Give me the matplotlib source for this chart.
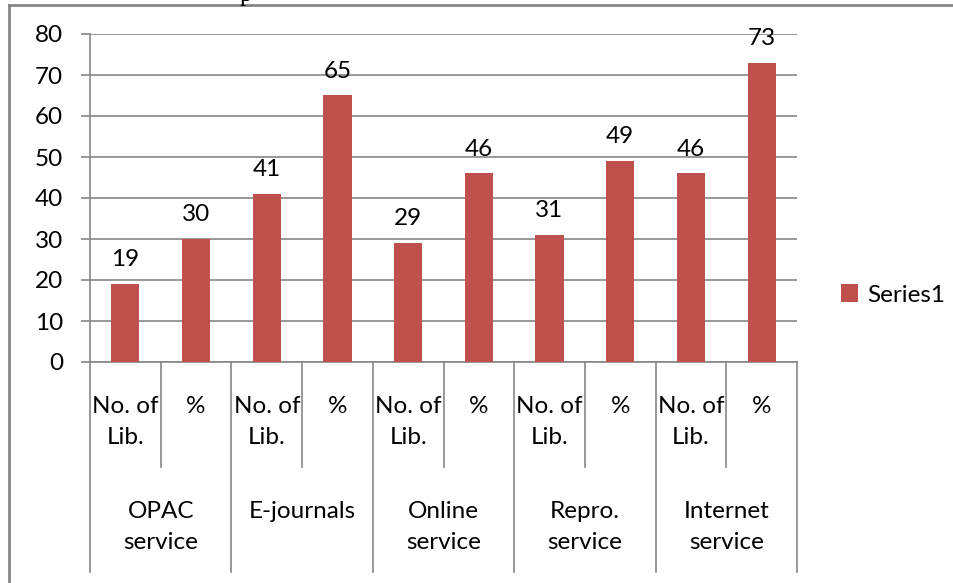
import matplotlib.pyplot as plt
from matplotlib.lines import Line2D
from matplotlib.transforms import blended_transform_factory

# library services: number of libraries and percentage for each service
services = ['OPAC\nservice', 'E-journals', 'Online\nservice', 'Repro.\nservice', 'Internet\nservice']
sub_labels = ['No. of\nLib.', '%']
no_of_lib = [19, 41, 29, 31, 46]
percent = [30, 65, 46, 49, 73]

values = []
for n, p in zip(no_of_lib, percent):
    values += [n, p]

plt.rcParams['font.family'] = ['Lato', 'DejaVu Sans']
GREY = '#868686'
BAR = '#C0504D'
FS = 17.5

fig = plt.figure(figsize=(9.54, 5.83), dpi=100)
ax = fig.add_axes([90 / 954, 1 - 362 / 583, (797 - 90) / 954, (362 - 34) / 583])

x = list(range(len(values)))
bars = ax.bar(x, values, width=0.4, color=BAR, label='Series1', zorder=3)
ax.bar_label(bars, padding=10, fontsize=FS)

ax.set_xlim(-0.5, len(values) - 0.5)
ax.set_ylim(0, 80)
ax.set_yticks(range(0, 81, 10))
ax.set_xticks([])
ax.tick_params(axis='y', length=6.5, width=1.2, color=GREY, pad=13, labelsize=FS)
ax.grid(axis='y', color=GREY, linewidth=1.2, zorder=0)
for side in ['top', 'right']:
    ax.spines[side].set_visible(False)
for side in ['left', 'bottom']:
    ax.spines[side].set_color(GREY)
    ax.spines[side].set_linewidth(1.2)

# two-level category axis below the plot
trans = blended_transform_factory(ax.transData, ax.transAxes)
sub_bottom = -(467 - 362) / 328
grp_bottom = -(572 - 362) / 328
for i in range(len(values) + 1):
    b = grp_bottom if i % 2 == 0 else sub_bottom
    ax.add_line(Line2D([i - 0.5, i - 0.5], [0, b], transform=trans, color=GREY,
                       linewidth=1.2, clip_on=False))
for i in range(len(values)):
    ax.text(i, -(396 - 362) / 328, sub_labels[i % 2], transform=trans, ha='center',
            va='top', fontsize=FS, linespacing=1.6)
for g, name in enumerate(services):
    ax.text(2 * g + 0.5, -(501 - 362) / 328, name, transform=trans, ha='center',
            va='top', fontsize=FS, linespacing=1.6)

ax.legend(loc='center left', bbox_to_anchor=(831 / 954, 1 - 295 / 583),
          bbox_transform=fig.transFigure, frameon=False, fontsize=FS,
          handlelength=0.7, handleheight=0.7, handletextpad=0.4, borderaxespad=0)

# chart frame and the clipped text above it
fig.add_artist(Line2D([9 / 954, 1], [1 - 5 / 583, 1 - 5 / 583], color=GREY, linewidth=2))
fig.add_artist(Line2D([9 / 954, 9 / 954], [0, 1 - 5 / 583], color=GREY, linewidth=2))
fig.text(240 / 954, 1 - 1 / 583, 'p', family='Liberation Serif', fontsize=18, va='baseline')

fig.savefig('out.png', dpi=100)
